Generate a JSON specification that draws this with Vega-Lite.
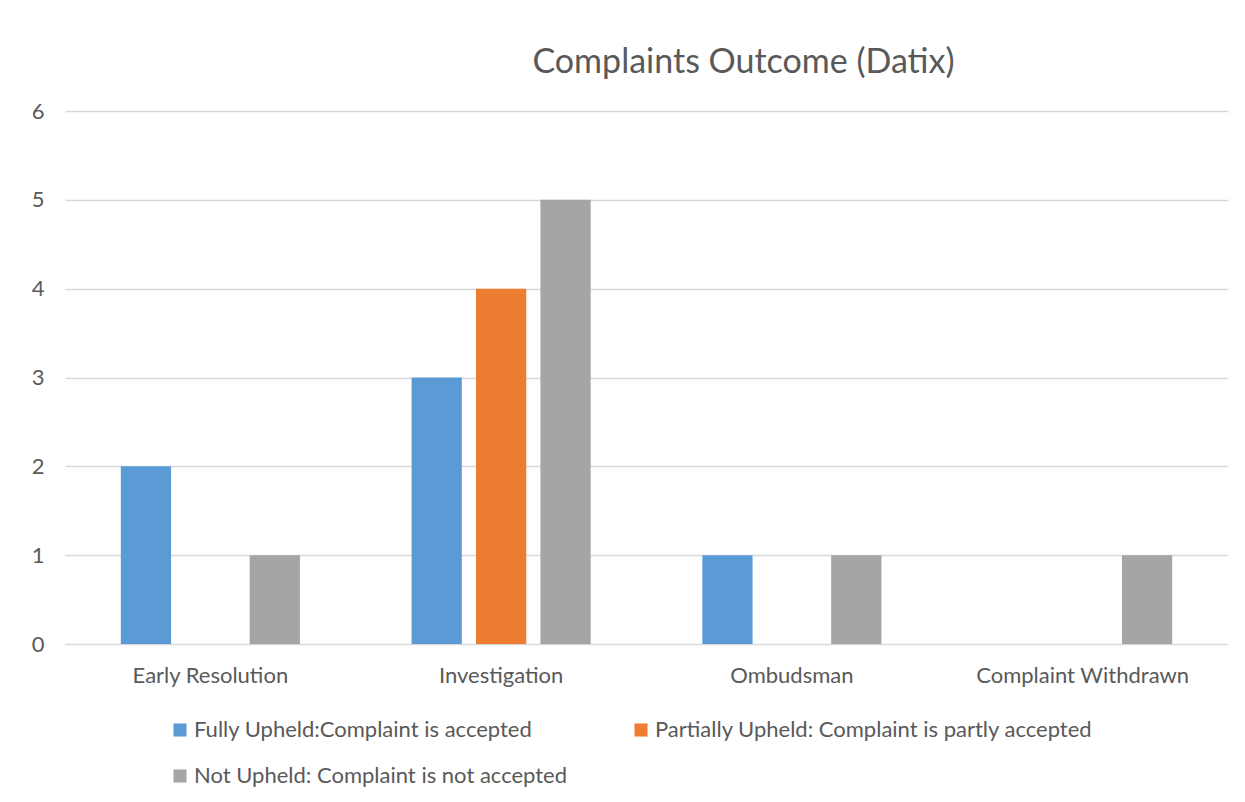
{
  "$schema": "https://vega.github.io/schema/vega-lite/v6.json",
  "autosize": {"type": "none"},
  "padding": {"left": 65, "top": 111, "right": 17, "bottom": 158},
  "width": 1163,
  "height": 533,
  "background": "white",
  "title": {
    "text": "Complaints Outcome (Datix)",
    "anchor": "middle",
    "dx": 97,
    "offset": 20,
    "fontSize": 34,
    "font": "Lato",
    "fontWeight": "normal",
    "color": "#595959"
  },
  "data": {
    "values": [
      {"category": "Early Resolution", "outcome": "Fully Upheld:Complaint is accepted", "count": 2},
      {"category": "Early Resolution", "outcome": "Partially Upheld: Complaint is partly accepted", "count": 0},
      {"category": "Early Resolution", "outcome": "Not Upheld: Complaint is not accepted", "count": 1},
      {"category": "Investigation", "outcome": "Fully Upheld:Complaint is accepted", "count": 3},
      {"category": "Investigation", "outcome": "Partially Upheld: Complaint is partly accepted", "count": 4},
      {"category": "Investigation", "outcome": "Not Upheld: Complaint is not accepted", "count": 5},
      {"category": "Ombudsman", "outcome": "Fully Upheld:Complaint is accepted", "count": 1},
      {"category": "Ombudsman", "outcome": "Partially Upheld: Complaint is partly accepted", "count": 0},
      {"category": "Ombudsman", "outcome": "Not Upheld: Complaint is not accepted", "count": 1},
      {"category": "Complaint Withdrawn", "outcome": "Fully Upheld:Complaint is accepted", "count": 0},
      {"category": "Complaint Withdrawn", "outcome": "Partially Upheld: Complaint is partly accepted", "count": 0},
      {"category": "Complaint Withdrawn", "outcome": "Not Upheld: Complaint is not accepted", "count": 1}
    ]
  },
  "mark": {"type": "bar"},
  "encoding": {
    "x": {
      "field": "category",
      "type": "nominal",
      "sort": ["Early Resolution", "Investigation", "Ombudsman", "Complaint Withdrawn"],
      "scale": {"paddingInner": 0.384, "paddingOuter": 0.192},
      "axis": {
        "title": null,
        "labelAngle": 0,
        "ticks": false,
        "domain": false,
        "labelPadding": 21,
        "labelFontSize": 22,
        "labelFont": "Lato",
        "labelColor": "#595959",
        "labelLimit": 400
      }
    },
    "xOffset": {
      "field": "outcome",
      "type": "nominal",
      "sort": ["Fully Upheld:Complaint is accepted", "Partially Upheld: Complaint is partly accepted", "Not Upheld: Complaint is not accepted"],
      "scale": {"paddingInner": 0.22, "paddingOuter": 0}
    },
    "y": {
      "field": "count",
      "type": "quantitative",
      "scale": {"domain": [0, 6], "nice": false},
      "axis": {
        "title": null,
        "values": [0, 1, 2, 3, 4, 5, 6],
        "ticks": false,
        "domain": false,
        "labelPadding": 21,
        "labelFontSize": 22,
        "labelFont": "Lato",
        "labelColor": "#595959",
        "gridColor": "#D9D9D9",
        "gridWidth": 1.3
      }
    },
    "color": {
      "field": "outcome",
      "type": "nominal",
      "sort": ["Fully Upheld:Complaint is accepted", "Partially Upheld: Complaint is partly accepted", "Not Upheld: Complaint is not accepted"],
      "scale": {
        "domain": ["Fully Upheld:Complaint is accepted", "Partially Upheld: Complaint is partly accepted", "Not Upheld: Complaint is not accepted"],
        "range": ["#5B9BD5", "#ED7D31", "#A5A5A5"]
      },
      "legend": {
        "title": null,
        "orient": "none",
        "legendX": 104,
        "legendY": 608,
        "direction": "horizontal",
        "columns": 2,
        "columnPadding": 62,
        "rowPadding": 24,
        "symbolType": "square",
        "symbolSize": 170,
        "symbolStrokeWidth": 0,
        "symbolOffset": 0,
        "labelOffset": 3,
        "labelFontSize": 22,
        "labelFont": "Lato",
        "labelColor": "#595959",
        "labelLimit": 700
      }
    }
  },
  "config": {
    "view": {"stroke": null},
    "axis": {"gridColor": "#D9D9D9"}
  }
}
